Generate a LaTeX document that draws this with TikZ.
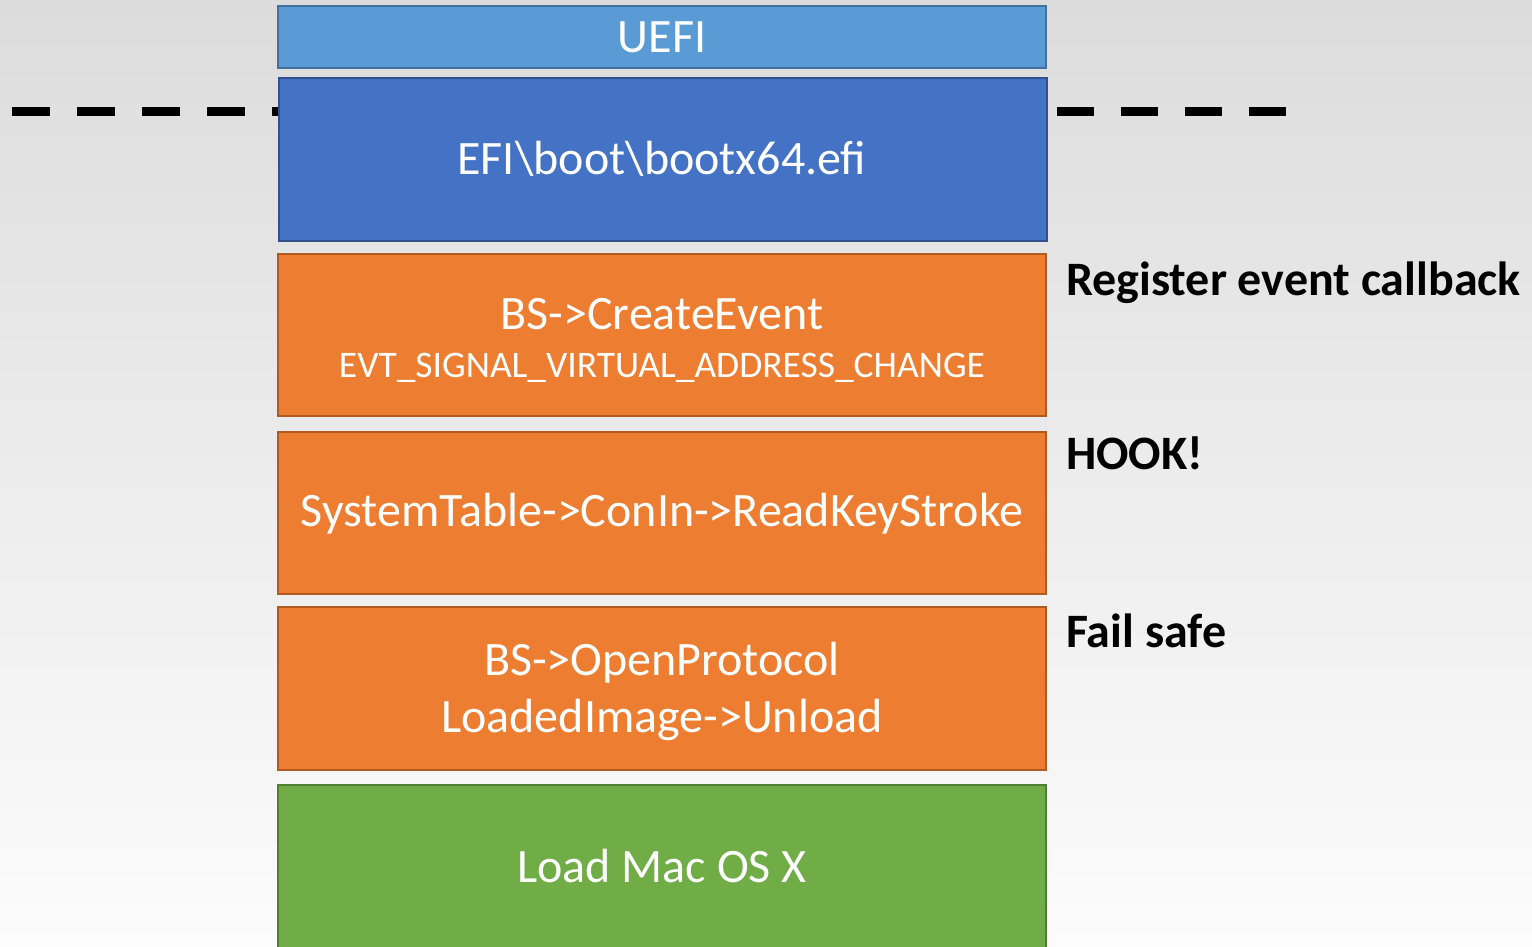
\documentclass[tikz,border=0pt]{standalone}
\usepackage{fontspec}
\setmainfont{Carlito}
\definecolor{bgtop}{HTML}{DCDCDC}
\definecolor{bgbot}{HTML}{FCFCFC}
\definecolor{uefifill}{HTML}{5B9BD5}
\definecolor{uefiline}{HTML}{41719C}
\definecolor{efifill}{HTML}{4472C4}
\definecolor{efiline}{HTML}{2F528F}
\definecolor{orfill}{HTML}{ED7D31}
\definecolor{orline}{HTML}{AE5A21}
\definecolor{grfill}{HTML}{70AD47}
\definecolor{grline}{HTML}{507E32}
\tikzset{
  layer/.style={draw, line width=2pt, minimum width=768pt, inner sep=0pt},
  big/.style={font=\fontsize{48}{58}\selectfont, text=white, anchor=base, inner sep=0pt},
  small/.style={font=\fontsize{37.5}{44}\selectfont, text=white, anchor=base, inner sep=0pt},
  note/.style={anchor=base west, font=\fontsize{48}{56}\selectfont\bfseries, text=black, inner sep=0pt},
  sep/.style={line width=9pt, dash pattern=on 37.5pt off 27.5pt}
}
\begin{document}
\begin{tikzpicture}[x=1pt,y=-1pt]
\useasboundingbox (0,0) rectangle (1532,947);
\shade[top color=bgtop, bottom color=bgbot] (0,0) rectangle (1532,947);
\clip (0,0) rectangle (1532,947);
\coordinate (l0) at (12,112);
\coordinate (l1) at (282,112);
\coordinate (r0) at (1057,112);
\coordinate (r1) at (1290,112);
\draw[sep] (l0) -- (l1);
\draw[sep, dash pattern=on 37pt off 27pt] (r0) -- (r1);
\node[layer, fill=uefifill, draw=uefiline, minimum height=62pt] (uefi) at (662,37) {};
\node[big] (uefit) at (662,53) {UEFI};
\node[layer, fill=efifill, draw=efiline, minimum height=163pt] (efi) at (663,159.5) {};
\node[big] (efit) at (662,175) {EFI\textbackslash boot\textbackslash bootx64.efi};
\node[layer, fill=orfill, draw=orline, minimum height=162pt] (create) at (662,335) {};
\node[big] (createa) at (662,329) {BS->CreateEvent};
\node[small] (createb) at (662,377) {EVT\_SIGNAL\_VIRTUAL\_ADDRESS\_CHANGE};
\node[layer, fill=orfill, draw=orline, minimum height=162pt] (hook) at (662,513) {};
\node[big] (hookt) at (662,526) {SystemTable->ConIn->ReadKeyStroke};
\node[layer, fill=orfill, draw=orline, minimum height=163pt] (open) at (662,688.5) {};
\node[big] (opena) at (662,675) {BS->OpenProtocol};
\node[big] (openb) at (662,732) {LoadedImage->Unload};
\node[layer, fill=grfill, draw=grline, minimum height=200pt] (mac) at (662,885) {};
\node[big] (macl) at (662,882) {Load Mac OS X};
\node[note] (n1) at (1066,295) {Register event callback};
\node[note] (n2) at (1066,469) {HOOK!};
\node[note] (n3) at (1066,647) {Fail safe};
\end{tikzpicture}
\end{document}
